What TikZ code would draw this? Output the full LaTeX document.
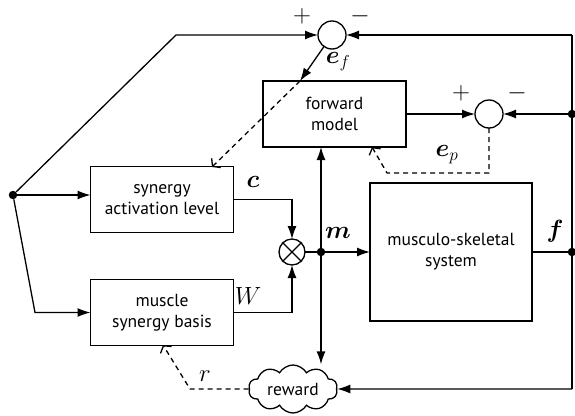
\documentclass[tikz,border=0pt]{standalone}
\usepackage{fontspec}
\setmainfont{PT Sans}
\usepackage{amsmath,bm}
\usetikzlibrary{arrows.meta,shapes.symbols}

\begin{document}
\begin{tikzpicture}[x=1pt,y=-1pt]
    % Node styles
    \tikzset{
      block/.style={draw,line width=1.3pt,minimum width=143pt,minimum height=66pt,
        align=center,inner sep=2pt,outer sep=0pt,font=\fontsize{17.5}{21}\selectfont},
      sum node/.style={circle,draw,line width=1.3pt,minimum size=28pt,inner sep=0pt,outer sep=0pt},
      solid node/.style={circle,fill=black,inner sep=0pt,minimum size=8.5pt},
      wire/.style={line width=1.3pt},
      signal/.style={wire,-{Latex[length=13pt,width=9pt]}},
      learn/.style={wire,dash pattern=on 5pt off 4pt,-{Straight Barb[length=5pt,width=13pt]}},
      sig label/.style={font=\fontsize{24}{24}\selectfont,inner sep=0pt},
      sign/.style={font=\fontsize{24}{24}\selectfont,inner sep=0pt}
    }
    \useasboundingbox (0,0) rectangle (575,415);

    % --- Blocks ---
    \node[block] (fwd) at (334.5,114) {forward\\model};
    \node[block] (act) at (162,199.5) {synergy\\activation level};
    \node[block] (syn) at (162,312.5) {muscle\\synergy basis};
    \node[block,minimum width=162pt,minimum height=138pt] (body) at (451,252) {musculo-skeletal\\system};
    \node[cloud,draw,line width=1.3pt,cloud puffs=10,cloud puff arc=120,aspect=2,
      minimum width=89pt,minimum height=48pt,inner sep=0pt,
      font=\fontsize{17.5}{17.5}\selectfont] (reward) at (293,389) {reward};

    % --- Summing and product points ---
    \node[sum node] (sum1) at (332,35) {};
    \node[sum node] (sum2) at (489,114) {};
    \node[sum node,minimum size=26pt] (prod) at (292,252) {};
    \draw[wire] (prod.north west) -- (prod.south east);
    \draw[wire] (prod.north east) -- (prod.south west);

    % --- Branch points ---
    \node[solid node] (in) at (13,195) {};
    \node[solid node] (mdot) at (321,252) {};
    \node[solid node] (fdot) at (572,252) {};
    \node[solid node] (pdot) at (572,114) {};
    \coordinate (bend top) at (176,35);
    \coordinate (bend low) at (35,312.5);
    \coordinate (corner top) at (572,35);
    \coordinate (corner low) at (572,389);
    \coordinate (ef) at (300,81);
    \coordinate (act tip) at (212,167);
    \coordinate (ep corner) at (489,173);
    \coordinate (ep bend) at (387,173);
    \coordinate (fwd tip) at (372,147);
    \coordinate (r bend) at (190,389);
    \coordinate (syn tip) at (163,345);

    % Input branches
    \draw[signal] (in) -- (bend top) -- (sum1);
    \draw[signal] (in) -- (in -| act.west);
    \draw[signal] (in) -- (bend low) -- (syn.west);

    % Synergy outputs
    \draw[signal] (act.east) -- (act.east -| prod) -- (prod.north);
    \draw[signal] (syn.east) -- (syn.east -| prod) -- (prod.south);
    \draw[wire] (prod) -- (mdot);
    \draw[signal] (mdot) -- (body.west);
    \draw[signal] (mdot) -- (fwd.south -| mdot);
    \draw[signal] (mdot) -- (mdot |- reward.north);

    % Feedback of f
    \draw[wire] (body.east) -- (fdot);
    \draw[wire] (corner top) -- (corner low);
    \draw[signal] (corner top) -- (sum1);
    \draw[signal] (pdot) -- (sum2);
    \draw[signal] (corner low) -- (reward.east);
    \draw[signal] (fwd.east) -- (sum2);

    % Error and learning signals
    \draw[signal] (sum1) -- (ef);
    \draw[learn] (ef) -- (act tip);
    \draw[learn] (sum2.south) -- (ep corner) -- (ep bend) -- (fwd tip);
    \draw[learn] (reward.west) -- (r bend) -- (syn tip);

    % --- Labels ---
    \node[sign] at (302,16) {$+$};
    \node[sign] at (360,16) {$-$};
    \node[sign] at (461,93) {$+$};
    \node[sign] at (517,93) {$-$};
    \node[sig label] at (338,62) {$\bm{e}_f$};
    \node[sig label] at (447,155) {$\bm{e}_p$};
    \node[sig label] at (253,182) {$\bm{c}$};
    \node[sig label] at (248,296) {$W$};
    \node[sig label] at (338,233) {$\bm{m}$};
    \node[sig label] at (555,231) {$\bm{f}$};
    \node[sig label] at (205,376) {$r$};
\end{tikzpicture}
\end{document}
